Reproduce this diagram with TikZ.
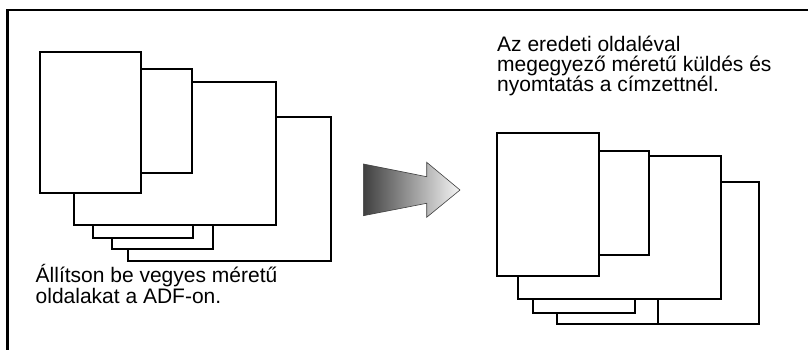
\documentclass[tikz,border=0pt]{standalone}
\usepackage{fontspec}
\setmainfont{Liberation Sans}
\begin{document}
\begin{tikzpicture}[x=1pt, y=-1pt,
    page/.style={draw, fill=white, line width=2pt},
    note/.style={anchor=base west, align=left, inner sep=0pt, font=\fontsize{21}{19.5}\selectfont}]
  \useasboundingbox (0,0) rectangle (808,350);
  \draw [line width=2.6pt] (808,10) -- (7.5,10) -- (7.5,350);
    % Mixed originals in the ADF
    \draw [page] (128.3,117.3) rectangle (330.5,260.5);
    \draw [page] (111.7,200) rectangle (213.3,249);
    \draw [page] (92.7,200) rectangle (193.3,237.5);
    \draw [page] (74,82.3) rectangle (276,225);
    \draw [page] (141,69) rectangle (191.7,173);
    \draw [page] (39.7,51.7) rectangle (141,193.3);
  % last line's baseline
  \node (adfnote) [note] at (35.5,303) {Állítson be vegyes méretű\\oldalakat a ADF-on.};
    % Arrow
    \draw [draw=black!75, line width=0.6pt, left color=black!75, right color=black!4]
      (363.3,164) -- (426.7,176.7) -- (426.7,162.3) -- (460,190) -- (426.7,217.3)
      -- (426.7,203.3) -- (363.3,215.7) -- cycle;
    % Printed at the recipient
    \draw [page] (620,181.7) rectangle (759.3,324.3);
    \draw [page] (556.7,280) rectangle (657.7,324.3);
    \draw [page] (533.3,280) rectangle (635,312.7);
    \draw [page] (518,155.7) rectangle (720.7,298.5);
    \draw [page] (599,150.7) rectangle (649.3,255);
    \draw [page] (496.7,132.7) rectangle (599,276);
  \node (printnote) [note] at (497,92) {Az eredeti oldaléval\\megegyező méretű küldés és\\nyomtatás a címzettnél.};
\end{tikzpicture}
\end{document}
